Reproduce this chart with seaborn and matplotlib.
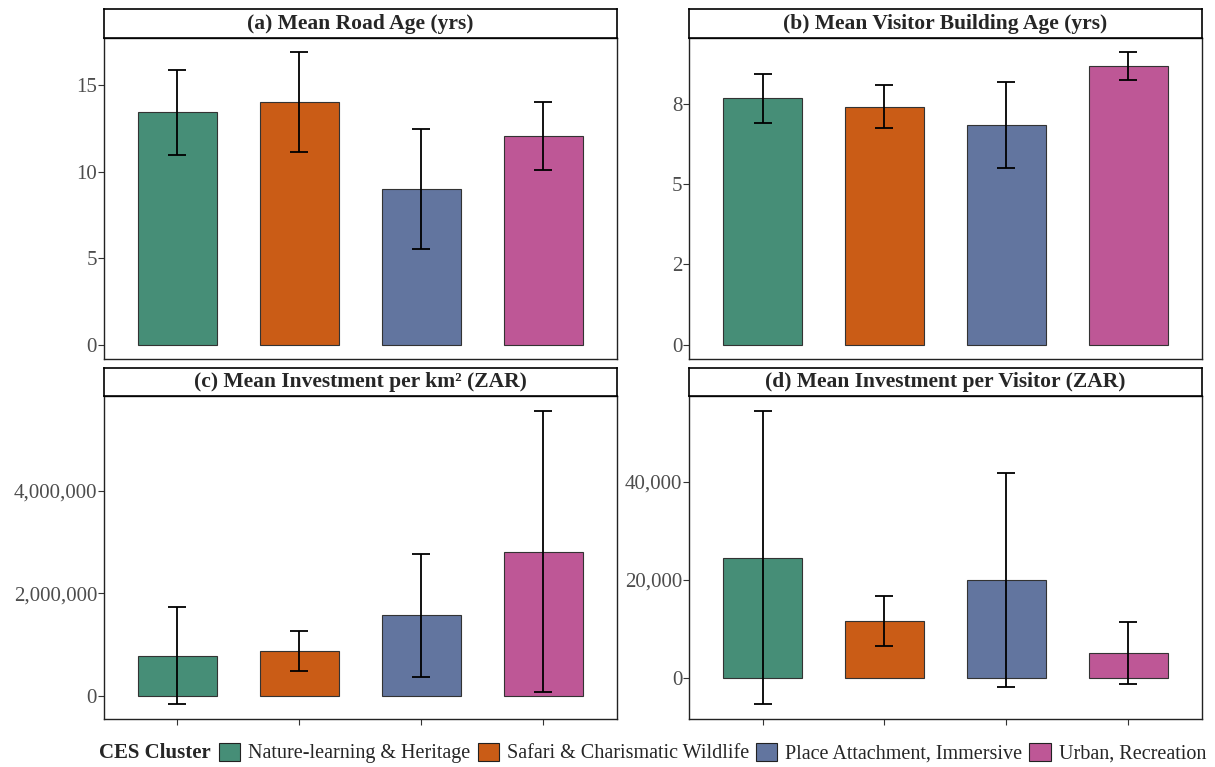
import matplotlib
matplotlib.use("Agg")
import matplotlib.pyplot as plt
import matplotlib.ticker as mticker
from matplotlib.patches import Patch
import seaborn as sns
import pandas as pd

# data
clusters = ["Nature-learning & Heritage", "Safari & Charismatic Wildlife",
            "Place Attachment, Immersive", "Urban, Recreation"]
colors = ["#468E77", "#CA5C16", "#62759F", "#BE5796"]

road_age_mean = [13.45, 14.05, 9.03, 12.08]
road_age_err = [2.45, 2.87, 3.47, 1.96]

building_age_mean = [7.68, 7.42, 6.84, 8.68]
building_age_err = [0.76, 0.67, 1.33, 0.43]

inv_km2_mean = [782000, 863000, 1563000, 2811000]
inv_km2_err = [951000, 388000, 1205000, 2746000]

inv_visitor_mean = [24500, 11550, 19900, 4975]
inv_visitor_err = [29950, 5075, 21800, 6270]

titles = ["(a) Mean Road Age (yrs)", "(b) Mean Visitor Building Age (yrs)",
          "(c) Mean Investment per km\u00b2 (ZAR)", "(d) Mean Investment per Visitor (ZAR)"]

sns.set_style("white")
plt.rcParams["font.family"] = ["Liberation Serif", "DejaVu Serif"]

W, H = 1215, 767
fig = plt.figure(figsize=(W / 100, H / 100), dpi=100)

# panel boxes in pixels: left, right, top, bottom
boxes = [(104, 616.7, 37.7, 359.3), (689.4, 1201.5, 37.7, 359.3),
         (104, 616.7, 396, 719), (689.4, 1201.5, 396, 719)]
strip_h = 28.4

means = [road_age_mean, building_age_mean, inv_km2_mean, inv_visitor_mean]
errs = [road_age_err, building_age_err, inv_km2_err, inv_visitor_err]
yticks = [[0, 5, 10, 15], [0, 2.5, 5, 7.5], [0, 2000000, 4000000], [0, 20000, 40000]]

for i in range(4):
    l, r, t, b = boxes[i]
    ax = fig.add_axes([l / W, 1 - b / H, (r - l) / W, (b - t) / H])
    df = pd.DataFrame({"cluster": clusters, "mean": means[i], "err": errs[i]})
    sns.barplot(data=df, x="cluster", y="mean", hue="cluster", palette=colors,
                order=clusters, hue_order=clusters, width=0.65, dodge=False,
                saturation=1, edgecolor="#333333", linewidth=0.8, legend=False, ax=ax)
    ax.errorbar(range(4), df["mean"], yerr=df["err"], fmt="none", ecolor="black",
                elinewidth=1.3, capsize=6.5, capthick=1.3, zorder=5)

    lo = min(0, min(m - e for m, e in zip(means[i], errs[i])))
    hi = max(m + e for m, e in zip(means[i], errs[i]))
    pad = (hi - lo) * 0.05
    ax.set_ylim(lo - pad, hi + pad)
    ax.set_xlim(-0.6, 3.6)
    ax.set_yticks(yticks[i])
    if i == 1:
        ax.set_yticklabels(["0", "2", "5", "8"])
    else:
        ax.yaxis.set_major_formatter(mticker.FuncFormatter(lambda v, p: f"{v:,.0f}"))
    ax.set_xlabel("")
    ax.set_ylabel("")
    if i < 2:
        ax.set_xticks([])
    else:
        ax.set_xticks(range(4))
        ax.set_xticklabels([])
    ax.tick_params(axis="both", length=4, width=0.8, color="#333333",
                   labelsize=15, labelcolor="#4D4D4D", pad=1, left=True,
                   bottom=(i >= 2))
    for s in ax.spines.values():
        s.set_visible(True)
        s.set_color("#222222")
        s.set_linewidth(1.0)

    # facet strip
    sax = fig.add_axes([l / W, 1 - t / H, (r - l) / W, strip_h / H])
    sax.set_xticks([])
    sax.set_yticks([])
    sax.set_facecolor("white")
    for s in sax.spines.values():
        s.set_color("black")
        s.set_linewidth(1.2)
    sax.text(0.5, 0.5, titles[i], ha="center", va="center", fontsize=15.5,
             fontweight="bold", transform=sax.transAxes)

# legend at the bottom
ly = 1 - 753 / H
fig.text(99 / W, ly, "CES Cluster", ha="left", va="center", fontsize=15,
         fontweight="bold")
handles = [Patch(facecolor=c, edgecolor="#222222", linewidth=0.8) for c in colors]
fig.legend(handles, clusters, loc="center left", bbox_to_anchor=(219 / W, ly),
           ncol=4, frameon=False, fontsize=14.5, handlelength=1.05, handleheight=1.0,
           handletextpad=0.4, columnspacing=0.35, borderpad=0, borderaxespad=0)

plt.savefig("out.png", dpi=100)
